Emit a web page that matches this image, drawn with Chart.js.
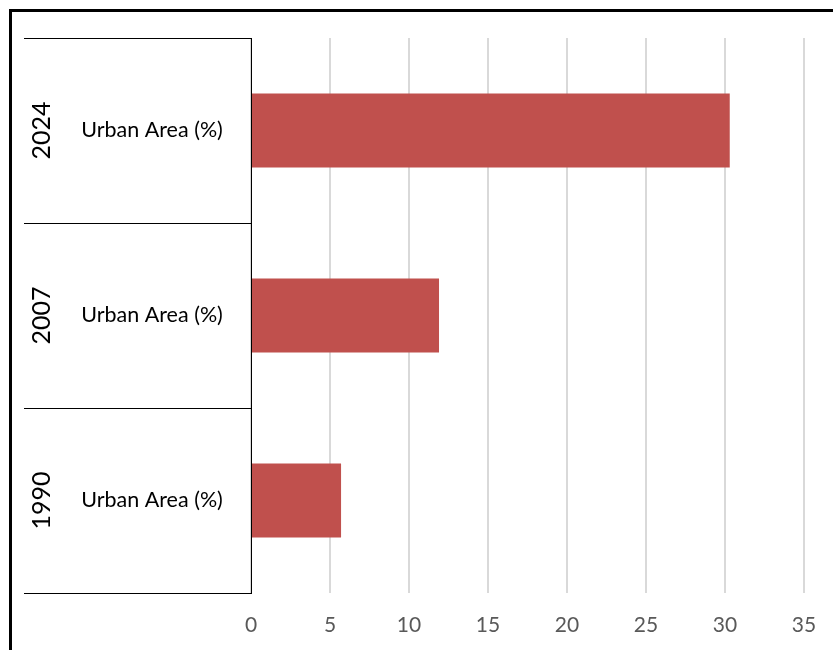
<!DOCTYPE html>
<html>
<head>
<meta charset="utf-8">
<script src="https://cdn.jsdelivr.net/npm/chart.js@4"></script>
<style>
  body { margin: 0; background: #fff; }
  #wrap { width: 833px; height: 650px; position: relative; }
</style>
</head>
<body>
<div id="wrap"><canvas id="myChart" width="833" height="650"></canvas></div>
<script>
const years = ["1990", "2007", "2024"]
const serieNombre = "Urban Area (%)"
const urbanArea = [5.7, 11.9, 30.3]
const ejeX = { min: 0, max: 35, paso: 5 }

const fuente = "Lato, 'Liberation Sans', sans-serif"

// dibuja marco exterior y etiquetas de dos niveles del eje de categorias
const etiquetasCategorias = {
    id: "etiquetasCategorias",
    beforeDraw(chart) {
        const ctx = chart.ctx
        ctx.save()
        ctx.fillStyle = "#fff"
        ctx.fillRect(0, 0, chart.width, chart.height)
        ctx.strokeStyle = "#000"
        ctx.lineWidth = 3
        ctx.beginPath()
        ctx.moveTo(10.5, chart.height)
        ctx.lineTo(10.5, 10.5)
        ctx.lineTo(chart.width, 10.5)
        ctx.stroke()
        ctx.restore()
    },
    afterDraw(chart) {
        const ctx = chart.ctx
        const escalaY = chart.scales.y
        ctx.save()
        ctx.fillStyle = "#000"
        ctx.textBaseline = "middle"
        ctx.textAlign = "center"
        years.forEach((anio, i) => {
            const y = escalaY.getPixelForTick(i)
            ctx.font = "21.5px " + fuente
            ctx.fillText(serieNombre, 152, y)
            ctx.save()
            ctx.translate(42, y)
            ctx.rotate(-Math.PI / 2)
            ctx.font = "25px " + fuente
            ctx.fillText(anio, 0, 0)
            ctx.restore()
        })
        ctx.restore()
    }
}

const config = {
    type: "bar",
    data: {
        labels: years,
        datasets: [
            {
                label: serieNombre,
                data: urbanArea,
                backgroundColor: "#c0504d",
                categoryPercentage: 1,
                barPercentage: 0.4
            }
        ]
    },
    options: {
        indexAxis: "y",
        responsive: false,
        animation: false,
        layout: { padding: { left: 24, top: 38, right: 29, bottom: 0 } },
        plugins: {
            legend: { display: false },
            tooltip: { enabled: false }
        },
        scales: {
            x: {
                min: ejeX.min,
                max: ejeX.max,
                ticks: {
                    stepSize: ejeX.paso,
                    color: "#595959",
                    padding: 20,
                    font: { family: fuente, size: 21 }
                },
                grid: { color: "#d9d9d9", lineWidth: 2, drawTicks: false },
                border: { display: false },
                afterFit(scale) {
                    scale.height = 57
                    scale.paddingLeft = 0
                    scale.paddingRight = 0
                }
            },
            y: {
                reverse: true,
                ticks: { display: false },
                grid: {
                    offset: true,
                    drawOnChartArea: false,
                    drawTicks: true,
                    tickLength: 227,
                    tickColor: "#000",
                    tickWidth: 1
                },
                border: { display: true, color: "#000", width: 1 },
                afterFit(scale) { scale.width = 227 }
            }
        }
    },
    plugins: [etiquetasCategorias]
}

const myChart = new Chart(document.querySelector("#myChart"), config)
</script>
</body>
</html>
